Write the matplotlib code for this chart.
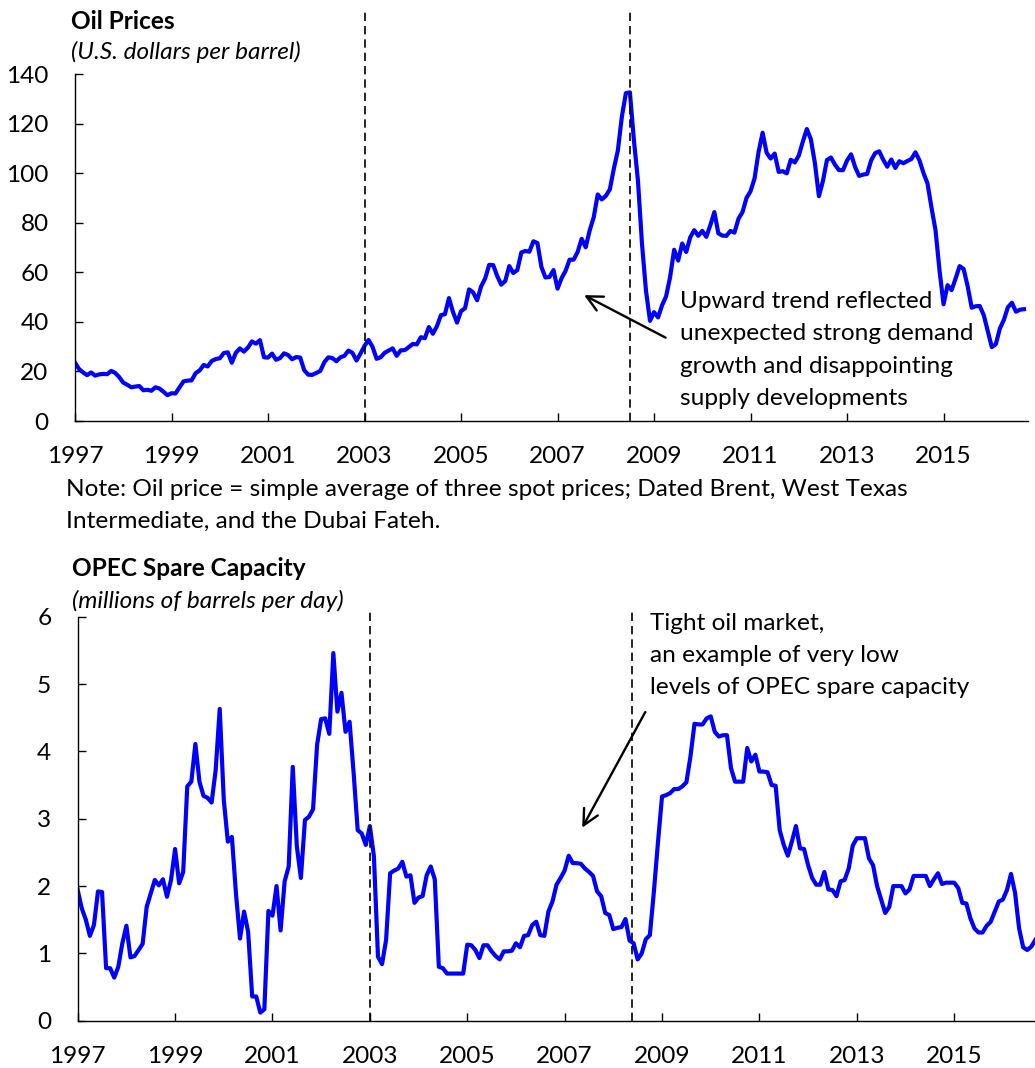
import matplotlib.pyplot as plt

# monthly data, Jan 1997 - Sep 2016
oil_price = [
    23.5, 21.0, 19.6, 18.5, 19.6, 18.3, 18.8, 19.0, 18.9, 20.2, 19.4, 17.7,
    15.5, 14.6, 13.6, 13.9, 14.1, 12.4, 12.6, 12.2, 13.6, 13.1, 11.8, 10.4,
    11.2, 11.1, 13.6, 16.0, 16.3, 16.4, 19.3, 20.4, 22.6, 22.0, 24.2, 25.0,
    25.3, 27.4, 27.7, 23.5, 27.5, 29.3, 28.0, 29.6, 32.1, 31.2, 32.6, 25.7,
    25.6, 27.2, 24.7, 25.4, 27.3, 26.6, 24.9, 25.8, 25.6, 20.5, 18.7, 18.6,
    19.4, 20.2, 23.7, 25.7, 25.4, 24.1, 25.7, 26.3, 28.4, 27.5, 24.4, 27.2,
    30.3, 32.7, 29.9, 25.1, 25.7, 27.5, 28.4, 29.3, 26.3, 28.5, 28.6, 29.8,
    31.1, 30.9, 33.8, 33.4, 37.9, 35.2, 38.2, 42.7, 43.1, 49.6, 44.0, 39.7,
    44.3, 45.5, 53.1, 51.9, 48.7, 54.3, 57.5, 63.0, 62.9, 58.5, 55.0, 56.5,
    62.5, 59.7, 60.9, 68.0, 68.6, 68.3, 72.5, 71.8, 62.1, 57.9, 58.1, 60.9,
    53.4, 57.6, 60.6, 65.1, 65.1, 68.2, 73.5, 70.1, 76.9, 82.2, 91.4, 89.4,
    90.8, 93.4, 101.8, 109.1, 122.8, 132.3, 132.6, 113.2, 97.0, 71.6, 52.5, 40.4,
    43.9, 41.8, 46.7, 50.3, 58.1, 69.1, 64.7, 71.6, 68.2, 74.1, 77.0, 74.7,
    76.7, 74.3, 79.0, 84.3, 75.7, 74.8, 74.7, 76.7, 76.0, 81.6, 84.3, 90.0,
    92.7, 97.9, 108.6, 116.3, 108.2, 105.9, 107.9, 100.5, 100.8, 99.9, 105.4, 104.3,
    107.1, 112.7, 117.8, 113.7, 104.1, 90.7, 96.8, 105.3, 106.3, 103.4, 101.2, 101.2,
    105.1, 107.6, 102.5, 98.9, 99.4, 99.7, 105.2, 108.1, 108.8, 105.4, 102.6, 105.5,
    102.1, 104.8, 104.0, 104.9, 105.7, 108.4, 105.2, 100.1, 95.9, 86.1, 77.0, 60.7,
    47.1, 54.8, 52.8, 57.5, 62.5, 61.3, 54.3, 45.7, 46.3, 46.4, 42.7, 36.2,
    29.8, 31.0, 37.3, 40.8, 45.9, 47.7, 44.1, 44.9, 45.1,
]

spare_capacity = [
    1.94, 1.67, 1.50, 1.26, 1.42, 1.92, 1.91, 0.78, 0.78, 0.64, 0.80, 1.15,
    1.41, 0.94, 0.96, 1.05, 1.14, 1.69, 1.89, 2.09, 2.01, 2.10, 1.84, 2.09,
    2.55, 2.04, 2.21, 3.48, 3.55, 4.11, 3.55, 3.34, 3.31, 3.24, 3.72, 4.63,
    3.28, 2.66, 2.73, 1.89, 1.22, 1.62, 1.32, 0.36, 0.36, 0.12, 0.17, 1.63,
    1.56, 2.00, 1.34, 2.07, 2.29, 3.77, 2.59, 2.12, 2.98, 3.03, 3.14, 4.10,
    4.48, 4.49, 4.26, 5.46, 4.59, 4.87, 4.29, 4.44, 3.68, 2.83, 2.78, 2.61,
    2.89, 2.44, 0.95, 0.84, 1.20, 2.19, 2.23, 2.26, 2.36, 2.14, 2.16, 1.75,
    1.83, 1.85, 2.16, 2.29, 2.10, 0.80, 0.78, 0.70, 0.70, 0.70, 0.70, 0.70,
    1.13, 1.12, 1.05, 0.93, 1.12, 1.12, 1.03, 0.96, 0.91, 1.03, 1.03, 1.04,
    1.15, 1.09, 1.26, 1.27, 1.42, 1.47, 1.27, 1.26, 1.62, 1.77, 2.02, 2.12,
    2.23, 2.45, 2.34, 2.34, 2.33, 2.26, 2.21, 2.15, 1.92, 1.85, 1.60, 1.57,
    1.36, 1.38, 1.39, 1.51, 1.19, 1.15, 0.91, 1.00, 1.21, 1.27, 1.92, 2.65,
    3.33, 3.35, 3.38, 3.44, 3.44, 3.48, 3.54, 3.92, 4.41, 4.40, 4.40, 4.49,
    4.52, 4.29, 4.22, 4.24, 4.24, 3.75, 3.55, 3.55, 3.55, 4.05, 3.85, 3.95,
    3.70, 3.70, 3.69, 3.50, 3.49, 2.83, 2.61, 2.45, 2.66, 2.89, 2.56, 2.55,
    2.31, 2.12, 2.02, 2.02, 2.21, 1.95, 1.94, 1.85, 2.07, 2.09, 2.26, 2.60,
    2.71, 2.71, 2.71, 2.41, 2.31, 2.00, 1.80, 1.60, 1.69, 2.00, 2.00, 2.00,
    1.89, 1.95, 2.15, 2.15, 2.15, 2.15, 2.00, 2.10, 2.19, 2.03, 2.05, 2.05,
    2.05, 1.97, 1.75, 1.74, 1.52, 1.37, 1.31, 1.31, 1.41, 1.47, 1.62, 1.77,
    1.80, 1.94, 2.18, 1.90, 1.37, 1.09, 1.05, 1.10, 1.20,
]

year_labels = ["1997", "1999", "2001", "2003", "2005", "2007", "2009", "2011", "2013", "2015"]
tick_months = [(int(y) - 1997) * 12 for y in year_labels]

# months since Jan 1997 where the dashed markers sit
events_top = [72, 138]
events_bottom = [72, 136.5]

plt.rcParams["font.family"] = ["Lato", "DejaVu Sans"]
FS = 17.6
LS = 1.66
W, H = 1035, 1068

fig = plt.figure(figsize=(W / 100, H / 100), dpi=100)
ax1 = fig.add_axes([75 / W, 1 - 421 / H, 953 / W, 347 / H])
ax2 = fig.add_axes([77.7 / W, 1 - 1020.7 / H, 961.7 / W, 404 / H])

ax1.plot(range(len(oil_price)), oil_price, color="#0000FF", linewidth=3)
ax2.plot(range(len(spare_capacity)), spare_capacity, color="#0000FF", linewidth=3)

for ax in (ax1, ax2):
    ax.spines["top"].set_visible(False)
    ax.spines["right"].set_visible(False)
    ax.spines["left"].set_linewidth(1.0)
    ax.spines["bottom"].set_linewidth(1.0)
    ax.set_xlim(0, 237)
    ax.set_xticks(tick_months)
    ax.set_xticklabels(year_labels)
    ax.tick_params(direction="in", length=5.8, width=1, labelsize=FS)
    ax.tick_params(axis="y", pad=19)
    ax.tick_params(axis="x", pad=18)

ax1.set_ylim(0, 140)
ax1.set_yticks(range(0, 141, 20))
ax2.set_ylim(0, 6)
ax2.set_yticks(range(0, 7))

for m in events_top:
    ax1.axvline(m, ymin=0, ymax=1.184, color="black", linewidth=1.2,
                linestyle=(0, (5, 3)), clip_on=False)
for m in events_bottom:
    ax2.axvline(m, ymin=0, ymax=1.021, color="black", linewidth=1.2,
                linestyle=(0, (5, 3)), clip_on=False)

# titles
fig.text(70.7 / W, 1 - 29.3 / H, "Oil Prices", fontsize=FS, fontweight="bold", va="baseline")
fig.text(70.7 / W, 1 - 59.3 / H, "(U.S. dollars per barrel)", fontsize=FS, style="italic", va="baseline")
fig.text(71.7 / W, 1 - 576 / H, "OPEC Spare Capacity", fontsize=FS, fontweight="bold", va="baseline")
fig.text(71.7 / W, 1 - 608.3 / H, "(millions of barrels per day)", fontsize=FS, style="italic", va="baseline")

# baseline of multi-line texts is the last line's baseline
fig.text(66 / W, 1 - 528.3 / H,
         "Note: Oil price = simple average of three spot prices; Dated Brent, West Texas\n"
         "Intermediate, and the Dubai Fateh.",
         fontsize=FS, va="baseline", linespacing=LS)

# annotations
ax1.text(150.5, 6.5,
         "Upward trend reflected\nunexpected strong demand\ngrowth and disappointing\nsupply developments",
         fontsize=FS, va="baseline", linespacing=LS)
ax1.annotate("", xy=(126, 51.3), xytext=(147.5, 33.1),
             arrowprops=dict(arrowstyle="->", color="black", lw=1.7, mutation_scale=28))

ax2.text(141, 4.85,
         "Tight oil market,\nan example of very low\nlevels of OPEC spare capacity",
         fontsize=FS, va="baseline", linespacing=LS)
ax2.annotate("", xy=(124, 2.83), xytext=(140.2, 4.62),
             arrowprops=dict(arrowstyle="->", color="black", lw=1.7, mutation_scale=28),
             annotation_clip=False)

fig.savefig("out.png", dpi=100)
